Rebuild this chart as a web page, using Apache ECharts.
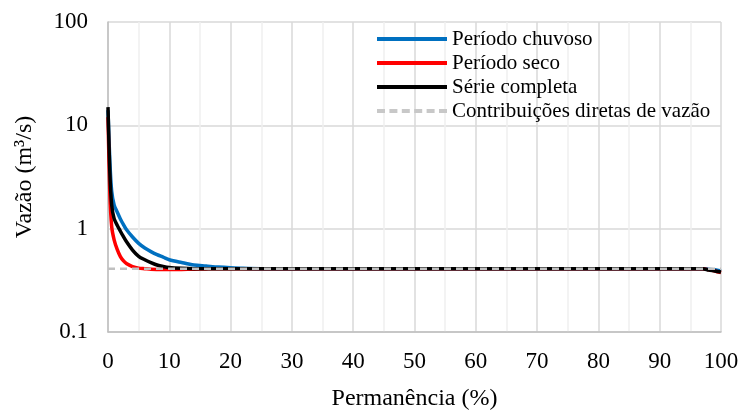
<!DOCTYPE html>
<html>
<head>
<meta charset="utf-8">
<script src="https://cdn.jsdelivr.net/npm/echarts@6/dist/echarts.min.js"></script>
<style>
html,body{margin:0;padding:0;background:#fff;}
#chart{width:742px;height:412px;}
</style>
</head>
<body>
<div id="chart"></div>
<script>
const permanencia = [0, 0.3, 0.6, 1, 1.5, 2, 2.5, 3, 4, 5, 6, 7, 8, 9, 10, 12, 14, 16, 18, 20, 22, 25, 30, 40, 50, 60, 70, 80, 90, 95, 97, 98, 99, 100];
const chuvoso = [14, 4.5, 2.3, 1.7, 1.45, 1.25, 1.1, 0.98, 0.83, 0.72, 0.65, 0.6, 0.56, 0.53, 0.5, 0.47, 0.445, 0.435, 0.425, 0.418, 0.413, 0.41, 0.41, 0.41, 0.41, 0.41, 0.41, 0.41, 0.41, 0.41, 0.41, 0.405, 0.4, 0.39];
const seco = [12, 2.2, 1.05, 0.78, 0.63, 0.54, 0.49, 0.46, 0.43, 0.415, 0.41, 0.405, 0.403, 0.402, 0.402, 0.403, 0.405, 0.408, 0.41, 0.41, 0.41, 0.41, 0.41, 0.41, 0.41, 0.41, 0.41, 0.41, 0.41, 0.41, 0.41, 0.4, 0.39, 0.375];
const completa = [15, 3.5, 1.7, 1.25, 1.08, 0.95, 0.84, 0.75, 0.62, 0.54, 0.5, 0.47, 0.445, 0.43, 0.42, 0.413, 0.41, 0.41, 0.41, 0.41, 0.41, 0.41, 0.41, 0.41, 0.41, 0.41, 0.41, 0.41, 0.41, 0.41, 0.41, 0.398, 0.39, 0.38];
const contribX = [0, 100];
const contribY = [0.41, 0.41];
const seriesNames = ['Período chuvoso', 'Período seco', 'Série completa', 'Contribuições diretas de vazão'];
const xTicks = [0, 10, 20, 30, 40, 50, 60, 70, 80, 90, 100];
const yTicks = [0.1, 1, 10, 100];

const font = "'Liberation Serif', 'Times New Roman', serif";
const pairs = (xs, ys) => xs.map((x, i) => [x, ys[i]]);
const solidIcon = 'path://M0,0H70V4H0Z';
const dashedIcon = 'path://M0,0h8v4h-8z M12.4,0h8v4h-8z M24.8,0h8v4h-8z M37.2,0h8v4h-8z M49.6,0h8v4h-8z M62,0h8v4h-8z';

const chart = echarts.init(document.getElementById('chart'));
chart.setOption({
  animation: false,
  backgroundColor: '#fff',
  textStyle: { fontFamily: font },
  grid: { left: 108, right: 21, top: 22, bottom: 80, containLabel: false, outerBoundsMode: 'none' },
  legend: {
    orient: 'vertical',
    left: 372,
    top: 22,
    itemWidth: 70,
    itemHeight: 4,
    itemGap: 0,
    data: [
      { name: seriesNames[0], icon: solidIcon },
      { name: seriesNames[1], icon: solidIcon },
      { name: seriesNames[2], icon: solidIcon },
      { name: seriesNames[3], icon: dashedIcon, itemStyle: { color: '#C8C8C8' } }
    ],
    textStyle: { fontFamily: font, fontSize: 21, color: '#000', lineHeight: 24 }
  },
  xAxis: {
    type: 'value',
    min: 0, max: 100, interval: 10,
    name: 'Permanência (%)',
    nameLocation: 'middle',
    nameGap: 55,
    nameTextStyle: { fontFamily: font, fontSize: 24, color: '#000' },
    axisLine: { show: true, lineStyle: { color: '#BFBFBF', width: 1.5 } },
    axisTick: { show: false },
    axisLabel: {
      fontFamily: font, fontSize: 23, color: '#000', margin: 18,
      formatter: v => xTicks.includes(v) ? String(v) : ''
    },
    splitLine: { show: true, lineStyle: { color: '#D9D9D9', width: 1.5 } },
    minorTick: { show: false, splitNumber: 2 },
    minorSplitLine: { show: true, lineStyle: { color: '#F0F0F0', width: 1.5 } }
  },
  yAxis: {
    type: 'log',
    logBase: 10,
    min: 0.1, max: 100,
    name: 'Vazão (m³/s)',
    nameLocation: 'middle',
    nameGap: 71,
    nameRotate: 90,
    nameTextStyle: { fontFamily: font, fontSize: 24, color: '#000' },
    axisLine: { show: true, lineStyle: { color: '#BFBFBF', width: 1.5 } },
    axisTick: { show: false },
    axisLabel: {
      fontFamily: font, fontSize: 23, color: '#000', margin: 20,
      formatter: v => {
        const m = yTicks.find(t => Math.abs(t - v) / t < 1e-6);
        return m !== undefined ? String(m) : '';
      }
    },
    splitLine: { show: true, lineStyle: { color: '#D9D9D9', width: 1.5 } }
  },
  series: [
    { name: seriesNames[0], type: 'line', data: pairs(permanencia, chuvoso), symbol: 'none', smooth: 0.3,
      lineStyle: { color: '#0070C0', width: 3.5 }, itemStyle: { color: '#0070C0' } },
    { name: seriesNames[1], type: 'line', data: pairs(permanencia, seco), symbol: 'none', smooth: 0.3,
      lineStyle: { color: '#FF0000', width: 3.5 }, itemStyle: { color: '#FF0000' } },
    { name: seriesNames[2], type: 'line', data: pairs(permanencia, completa), symbol: 'none', smooth: 0.3,
      lineStyle: { color: '#000000', width: 3.5 }, itemStyle: { color: '#000000' } },
    { name: seriesNames[3], type: 'line', data: pairs(contribX, contribY), symbol: 'none',
      lineStyle: { color: '#C0C0C0', width: 2.5, type: [7, 5] }, itemStyle: { color: '#C8C8C8' } }
  ]
});
</script>
</body>
</html>
